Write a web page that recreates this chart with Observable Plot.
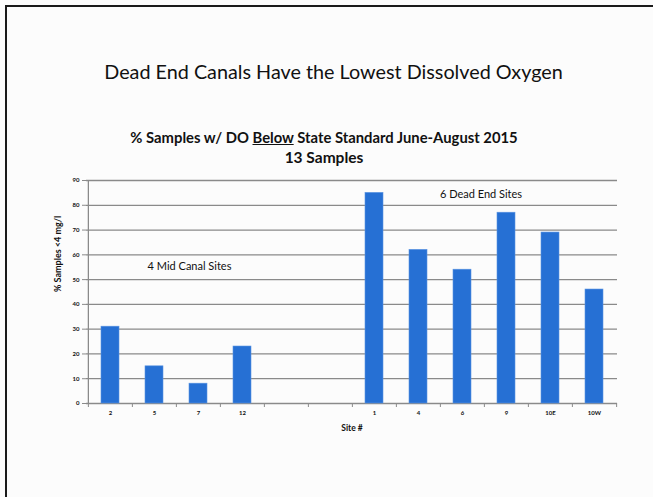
<!DOCTYPE html>
<html>
<head>
<meta charset="utf-8">
<script src="https://cdn.jsdelivr.net/npm/d3@7"></script>
<script src="https://cdn.jsdelivr.net/npm/@observablehq/plot@0.6"></script>
<style>
  html, body { margin: 0; padding: 0; background: #fcfcfc; }
  #slide { position: relative; width: 653px; height: 497px; overflow: hidden; background: #fcfcfc; font-family: Lato, "Open Sans", sans-serif; color: #111; }
  #bt { position: absolute; left: 5px; top: 5px; width: 650px; height: 2px; background: #1a1a1a; }
  #bl { position: absolute; left: 5px; top: 5px; width: 2px; height: 500px; background: #1a1a1a; }
  #title { position: absolute; left: 0; width: 667px; top: 59px; text-align: center; font-size: 19.8px; }
  #sub { position: absolute; left: 0; width: 648px; top: 127px; text-align: center; font-size: 14.8px; font-weight: bold; line-height: 20px; }
  #sub .n { font-size: 15.5px; }
  #chart { position: absolute; left: 0; top: 170px; }
</style>
</head>
<body>
<div id="slide">
  <div id="bt"></div><div id="bl"></div>
  <div id="title">Dead End Canals Have the Lowest Dissolved Oxygen</div>
  <div id="sub">% Samples w/ DO <u>Below</u> State Standard June-August 2015<br><span class="n">13 Samples</span></div>
  <div id="chart"></div>
</div>
<script>
const sites = ["2", "5", "7", "12", "gapA", "gapB", "1", "4", "6", "9", "10E", "10W"];
const barSites = ["2", "5", "7", "12", "1", "4", "6", "9", "10E", "10W"];
const pctBelow = [31, 15, 8, 23, 85, 62, 54, 77, 69, 46];
const yTicks = [0, 10, 20, 30, 40, 50, 60, 70, 80, 90];
const xTitle = "Site #";
const yTitle = "% Samples <4 mg/l";
const midNote = {text: "4 Mid Canal Sites", site: "7", y: 55.5};
const deadNote = {text: "6 Dead End Sites", site: "9", y: 84.5};

const bars = barSites.map((s, i) => ({site: s, pct: pctBelow[i]}));

const W = 653, ML = 86, MR = 36;
const step = (W - ML - MR) / sites.length;

const plot = Plot.plot({
  width: W,
  height: 273,
  marginTop: 10,
  marginBottom: 40,
  marginLeft: ML,
  marginRight: MR,
  style: {background: "transparent", fontFamily: "Lato, 'Open Sans', sans-serif", color: "#111"},
  x: {domain: sites, paddingInner: 0.6, paddingOuter: 0.3, label: null},
  y: {domain: [0, 90], label: null},
  marks: [
    Plot.ruleY(yTicks, {stroke: "#8a8a8a", strokeWidth: 1.3}),
    Plot.ruleX([0], {x: () => sites[0], dx: -step / 2, y1: 0, y2: 90, stroke: "#8a8a8a", strokeWidth: 1.3}),
    Plot.barY(bars, {x: "site", y: "pct", fill: "#2670d4", stroke: "#5a94e2", strokeWidth: 0.6}),
    Plot.axisY({ticks: yTicks, tickSize: 4, tickPadding: 3, fontSize: 6, fontWeight: "bold", stroke: "#8a8a8a", label: null}),
    Plot.axisX({tickSize: 4, dx: -step / 2, tickFormat: () => "", stroke: "#8a8a8a", label: null}),
    Plot.axisX({ticks: ["10W"], tickSize: 4, dx: step / 2, tickFormat: () => "", stroke: "#8a8a8a", label: null}),
    Plot.axisX({tickSize: 0, tickPadding: 7, fontSize: 6, fontWeight: "bold", tickFormat: d => d.startsWith("gap") ? "" : d, label: null}),
    Plot.text([xTitle], {frameAnchor: "bottom", text: d => d, dy: 27, fontSize: 8.5, fontWeight: "bold", fill: "#111"}),
    Plot.text([midNote], {x: "site", y: "y", text: "text", dx: -9, fontSize: 11, fill: "#111"}),
    Plot.text([deadNote], {x: "site", y: "y", text: "text", dx: -25.5, fontSize: 11, fill: "#111"}),
    Plot.text([yTitle], {frameAnchor: "left", text: d => d, rotate: -90, dx: -28, fontSize: 9, fontWeight: "bold", fill: "#111"})
  ]
});
document.getElementById("chart").appendChild(plot);
</script>
</body>
</html>
